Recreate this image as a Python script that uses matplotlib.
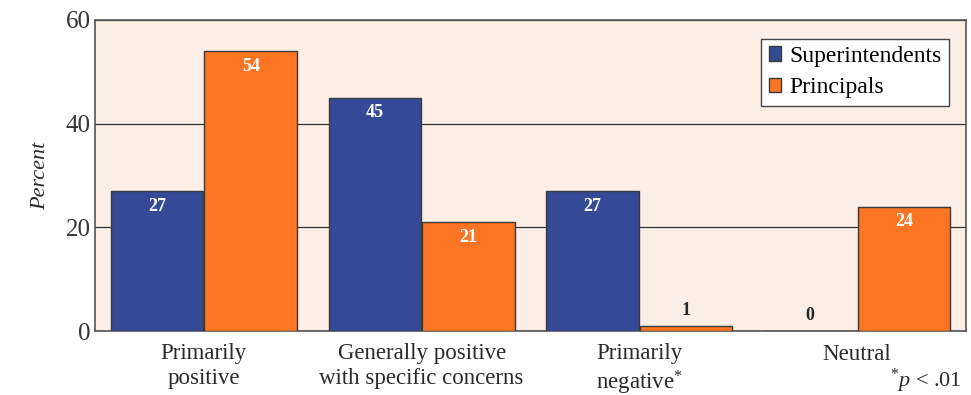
import matplotlib
matplotlib.use("Agg")
import matplotlib.pyplot as plt
import numpy as np

categories = ["Primarily\npositive", "Generally positive\nwith specific concerns",
              "Primarily\nnegative$^{*}$", "Neutral"]
superintendents = [27, 45, 27, 0]
principals = [54, 21, 1, 24]
series_names = ["Superintendents", "Principals"]
yticks = [0, 20, 40, 60]

blue = "#344a96"
orange = "#fb7524"
bg = "#fdeee6"
edge = "#3a3a3a"

plt.rcParams["font.family"] = ["Liberation Serif", "DejaVu Serif"]
plt.rcParams["mathtext.fontset"] = "custom"
plt.rcParams["mathtext.rm"] = "Liberation Serif"
plt.rcParams["mathtext.it"] = "Liberation Serif:italic"

fig = plt.figure(figsize=(9.71, 3.95), dpi=100)
ax = fig.add_axes([95 / 971, 1 - 331 / 395, 871 / 971, 311 / 395])
ax.set_facecolor(bg)

x = np.arange(len(categories))
w = 0.425
off = 0.215
b1 = ax.bar(x - off, superintendents, w, color=blue, edgecolor=edge, linewidth=1, zorder=3,
            label=series_names[0])
b2 = ax.bar(x + off, principals, w, color=orange, edgecolor=edge, linewidth=1, zorder=3,
            label=series_names[1])

for bars, vals in ((b1, superintendents), (b2, principals)):
    for rect, v in zip(bars, vals):
        cx = rect.get_x() + rect.get_width() / 2
        if v >= 5:
            ax.text(cx, v - 1.3, f"{v}", ha="center", va="top", color="white",
                    fontsize=13, fontweight="bold", zorder=4)
        else:
            ax.text(cx, v + 1.3, f"{v}", ha="center", va="bottom", color="#2a2a2a",
                    fontsize=13, fontweight="bold", zorder=4)

ax.set_xlim(-0.5, 3.5)
ax.set_ylim(0, 60)
ax.set_yticks(yticks)
ax.set_yticklabels([str(t) for t in yticks], fontsize=18, color="#333333")
ax.set_xticks(x)
ax.set_xticklabels(categories, fontsize=16.5, color="#2a2a2a", linespacing=1.2)
ax.tick_params(axis="x", length=0, pad=9)
ax.tick_params(axis="y", length=0, pad=3)
ax.yaxis.grid(True, color="#333333", linewidth=0.9, zorder=1)
ax.set_axisbelow(True)
for s in ax.spines.values():
    s.set_color("#555555")
    s.set_linewidth(1.2)

ax.set_ylabel("Percent", fontsize=16, style="italic", color="#2a2a2a", labelpad=11)

leg = ax.legend(loc="upper right", bbox_to_anchor=(0.986, 0.955), fontsize=17,
                frameon=True, fancybox=False, edgecolor="#444444", framealpha=1,
                handlelength=0.55, handleheight=0.55, handletextpad=0.35,
                borderpad=0.3, labelspacing=0.45, borderaxespad=0.2)
leg.get_frame().set_linewidth(1.0)

fig.text(962 / 971, 1 - 381 / 395, r"$^{*}\it{p}$ < .01", ha="right", va="center",
         fontsize=16, color="#2a2a2a")

fig.savefig("out.png", dpi=100)
